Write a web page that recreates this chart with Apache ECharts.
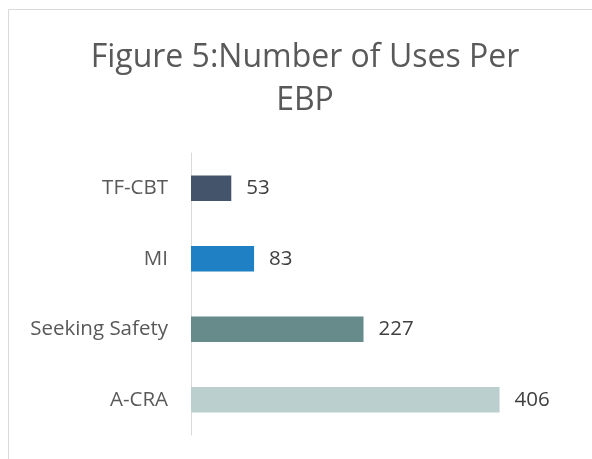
<!DOCTYPE html>
<html lang="en">
<head>
    <meta charset="UTF-8">
    <title>Figure 5</title>
    <script src="https://cdn.jsdelivr.net/npm/echarts@6/dist/echarts.min.js"></script>
    <style>
        html, body { margin: 0; padding: 0; background: #fff; }
        #chart { width: 592px; height: 459px; }
    </style>
</head>
<body>
<div id="chart"></div>
<script>
    // bottom to top, as the axis draws them
    const categories = ['A-CRA', 'Seeking Safety', 'MI', 'TF-CBT'];
    const uses = [406, 227, 83, 53];
    const barColors = ['#BCCFCF', '#678B8B', '#1F80C4', '#44546A'];

    const chart = echarts.init(document.getElementById('chart'));

    const option = {
        backgroundColor: '#fff',
        animation: false,
        textStyle: {fontFamily: 'Open Sans'},
        title: {
            text: 'Figure 5:Number of Uses Per\nEBP',
            left: 305,
            top: 36,
            textAlign: 'center',
            padding: 0,
            textStyle: {
                fontFamily: 'Open Sans',
                fontSize: 32,
                fontWeight: 'normal',
                color: '#595959',
                lineHeight: 43
            }
        },
        graphic: [
            {
                // chart frame, runs off the right and bottom edges
                type: 'rect',
                shape: {x: 8.5, y: 9.5, width: 620, height: 480},
                style: {fill: 'none', stroke: '#D9D9D9', lineWidth: 1}
            }
        ],
        grid: {left: 191, top: 153, width: 380, height: 282},
        xAxis: {
            type: 'value',
            min: 0,
            max: 500,
            show: false
        },
        yAxis: {
            type: 'category',
            data: categories,
            axisLine: {lineStyle: {color: '#D9D9D9', width: 1}},
            axisTick: {show: false},
            axisLabel: {color: '#595959', fontSize: 20.5, margin: 23}
        },
        series: [
            {
                type: 'bar',
                data: uses.map((v, i) => ({value: v, itemStyle: {color: barColors[i]}})),
                barCategoryGap: '64%',
                label: {
                    show: true,
                    position: 'right',
                    distance: 15,
                    color: '#404040',
                    fontSize: 20.5
                }
            }
        ]
    };

    chart.setOption(option);
</script>
</body>
</html>
